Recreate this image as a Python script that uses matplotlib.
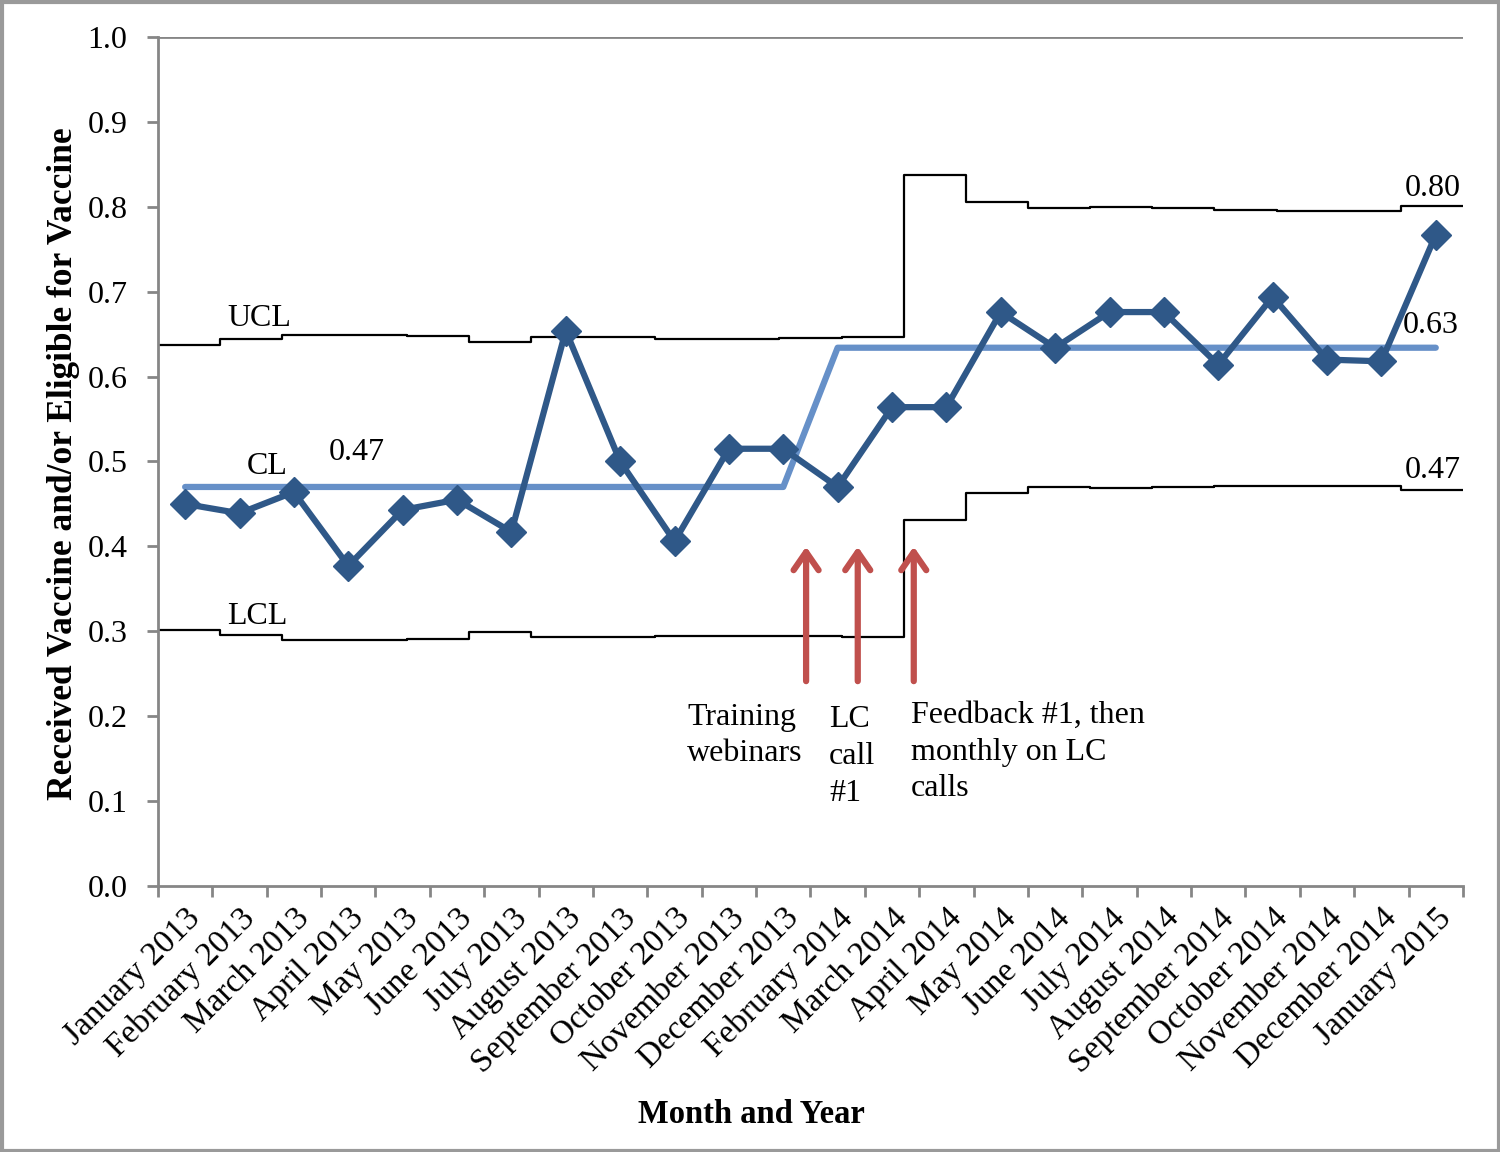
import matplotlib
matplotlib.use("Agg")
import matplotlib.pyplot as plt
from matplotlib.patches import Rectangle

plt.rcParams['font.family'] = ['Liberation Serif', 'DejaVu Serif']

months = ["January 2013", "February 2013", "March 2013", "April 2013", "May 2013",
          "June 2013", "July 2013", "August 2013", "September 2013", "October 2013",
          "November 2013", "December 2013", "February 2014", "March 2014", "April 2014",
          "May 2014", "June 2014", "July 2014", "August 2014", "September 2014",
          "October 2014", "November 2014", "December 2014", "January 2015"]
proportion = [0.450, 0.439, 0.464, 0.377, 0.443, 0.455, 0.417, 0.654, 0.500, 0.406,
              0.515, 0.515, 0.470, 0.564, 0.564, 0.676, 0.634, 0.676, 0.676, 0.614,
              0.694, 0.620, 0.618, 0.767]
center_line = [0.47, 0.47, 0.47, 0.47, 0.47, 0.47, 0.47, 0.47, 0.47, 0.47, 0.47, 0.47,
               0.634, 0.634, 0.634, 0.634, 0.634, 0.634, 0.634, 0.634, 0.634, 0.634, 0.634, 0.634]
# control limits, 21 step segments spanning the whole axis
ucl = [0.637, 0.644, 0.649, 0.649, 0.648, 0.641, 0.647, 0.647, 0.644, 0.644, 0.645,
       0.647, 0.837, 0.806, 0.799, 0.800, 0.799, 0.796, 0.795, 0.795, 0.801]
lcl = [0.302, 0.296, 0.290, 0.290, 0.291, 0.299, 0.293, 0.293, 0.295, 0.295, 0.294,
       0.293, 0.431, 0.463, 0.470, 0.469, 0.470, 0.471, 0.471, 0.471, 0.466]
yticks = [0.0, 0.1, 0.2, 0.3, 0.4, 0.5, 0.6, 0.7, 0.8, 0.9, 1.0]

data_color = '#2F5888'
cl_color = '#6690C8'
arrow_color = '#C0504D'
axis_gray = '#868686'
FS = 23

fig = plt.figure(figsize=(15, 11.52), dpi=100)
fig.patches.append(Rectangle((0.001, 0.001), 0.998, 0.997, transform=fig.transFigure,
                             fill=False, edgecolor='#9a9a9a', linewidth=3))
ax = fig.add_axes([0.1053, 0.2309, 0.8700, 0.7370])

n = len(months)
x = list(range(n))
ax.set_xlim(-0.5, n - 0.5)
ax.set_ylim(0, 1.0)

# control limit steps on a secondary x scale
ax2 = ax.twiny()
ax2.set_xlim(0, len(ucl))
sx = list(range(len(ucl) + 1))
ax2.step(sx, ucl + [ucl[-1]], where='post', color='black', lw=1.6, zorder=2)
ax2.step(sx, lcl + [lcl[-1]], where='post', color='black', lw=1.6, zorder=2)
ax2.axis('off')
ax.set_zorder(ax2.get_zorder() + 1)
ax.patch.set_visible(False)

ax.plot(x, center_line, color=cl_color, lw=4.5, zorder=3, solid_capstyle='round')
ax.plot(x, proportion, color=data_color, lw=4.5, marker='D', markersize=15,
        zorder=4)

# top line at 1.0
ax.axhline(1.0, color=axis_gray, lw=2, zorder=1)

for s in ['top', 'right']:
    ax.spines[s].set_visible(False)
for s in ['left', 'bottom']:
    ax.spines[s].set_color(axis_gray)
    ax.spines[s].set_linewidth(2)

ax.set_yticks(yticks)
ax.set_yticklabels([f"{v:.1f}" for v in yticks], fontsize=FS)
ax.tick_params(axis='y', direction='out', length=8, width=2, color=axis_gray, pad=14)

ax.set_xticks(x)
ax.set_xticklabels(months, rotation=45, ha='right', rotation_mode='anchor', fontsize=FS + 1)
ax.tick_params(axis='x', which='major', length=0, pad=12)
ax.set_xticks([i - 0.5 for i in range(n + 1)], minor=True)
ax.tick_params(axis='x', which='minor', direction='out', length=8, width=2, color=axis_gray)

ax.set_ylabel("Received Vaccine and/or Eligible for Vaccine", fontsize=25.5, fontweight='bold')
ax.yaxis.set_label_coords(-0.060, 0.497)
ax.set_xlabel("Month and Year", fontsize=23.5, fontweight='bold')
ax.xaxis.set_label_coords(0.455, -0.251)

# labels
ax.text(1.36, 0.668, "UCL", fontsize=FS, ha='center', va='center')
ax.text(1.5, 0.494, "CL", fontsize=FS, ha='center', va='center')
ax.text(1.32, 0.317, "LCL", fontsize=FS, ha='center', va='center')
ax.text(3.16, 0.511, "0.47", fontsize=FS, ha='center', va='center')
ax.text(22.95, 0.822, "0.80", fontsize=FS, ha='center', va='center')
ax.text(22.90, 0.660, "0.63", fontsize=FS, ha='center', va='center')
ax.text(22.95, 0.489, "0.47", fontsize=FS, ha='center', va='center')

# intervention arrows
arrow_x = [11.42, 12.37, 13.40]
for ax_x in arrow_x:
    ax.annotate("", xy=(ax_x, 0.403), xytext=(ax_x, 0.238),
                arrowprops=dict(arrowstyle='->,head_length=1.3,head_width=0.9',
                                color=arrow_color, lw=4.5))

ax.text(9.23, 0.216, "Training\nwebinars", fontsize=FS, ha='left', va='top',
        linespacing=1.35)
ax.text(11.84, 0.213, "LC\ncall\n#1", fontsize=FS, ha='left', va='top', linespacing=1.35)
ax.text(13.35, 0.218, "Feedback #1, then\nmonthly on LC\ncalls", fontsize=FS,
        ha='left', va='top', linespacing=1.35)

fig.savefig("out.png", dpi=100)
